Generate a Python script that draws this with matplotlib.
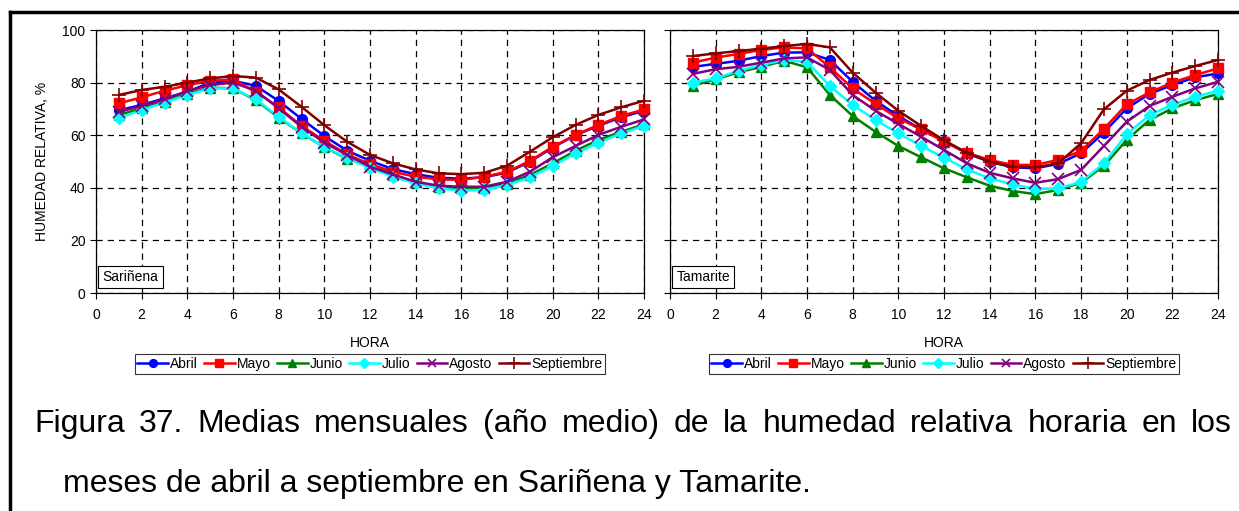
import matplotlib
matplotlib.use("Agg")
import matplotlib.pyplot as plt
from matplotlib.lines import Line2D
import numpy as np

plt.rcParams['font.family'] = ['Liberation Sans', 'DejaVu Sans']

hours = list(range(1, 25))
months = ["Abril", "Mayo", "Junio", "Julio", "Agosto", "Septiembre"]
colors = ["#0000FF", "#FF0000", "#008000", "#00FFFF", "#800080", "#800000"]
markers = ["o", "s", "^", "D", "x", "+"]
msizes = [7, 7, 7, 6, 8, 10]

sarinena = {
    "Abril":      [69.5, 71.5, 74.0, 76.5, 80.0, 80.7, 78.8, 73.0, 66.2, 59.7, 54.1, 50.3, 47.1, 45.2, 43.8, 43.5, 44.0, 45.8, 49.9, 55.3, 60.0, 63.6, 66.8, 69.3],
    "Mayo":       [72.1, 74.4, 76.9, 79.0, 80.7, 81.2, 76.5, 70.6, 63.5, 57.9, 52.7, 49.0, 46.1, 44.2, 43.2, 43.0, 44.2, 46.1, 50.2, 55.6, 60.1, 63.9, 67.3, 69.8],
    "Junio":      [67.7, 70.2, 72.8, 75.7, 78.1, 77.8, 73.3, 66.7, 60.7, 55.5, 51.0, 48.2, 45.0, 42.1, 40.4, 39.8, 39.8, 41.6, 44.9, 49.3, 54.1, 58.2, 61.3, 64.1],
    "Julio":      [66.4, 69.6, 72.4, 75.3, 77.8, 77.8, 73.6, 67.0, 60.7, 55.6, 51.2, 47.6, 44.2, 41.7, 39.8, 38.9, 39.2, 41.0, 44.0, 48.3, 53.1, 57.1, 60.7, 63.5],
    "Agosto":     [68.9, 71.1, 73.6, 76.8, 79.1, 80.0, 76.9, 70.2, 63.2, 57.2, 52.5, 48.0, 45.1, 42.3, 40.8, 40.4, 40.4, 42.3, 46.1, 51.6, 55.9, 60.1, 63.2, 66.0],
    "Septiembre": [75.3, 77.2, 78.4, 80.0, 81.6, 82.5, 81.9, 77.4, 70.8, 63.8, 57.5, 52.5, 49.3, 47.0, 45.5, 45.2, 45.7, 48.4, 53.7, 59.2, 63.9, 67.7, 70.6, 73.1],
}

tamarite = {
    "Abril":      [86.0, 87.1, 88.3, 90.1, 91.4, 91.5, 88.6, 80.3, 73.1, 67.3, 62.2, 57.9, 53.1, 49.9, 47.8, 47.4, 49.1, 53.1, 61.0, 70.2, 75.7, 79.1, 82.0, 83.5],
    "Mayo":       [87.6, 89.5, 90.9, 92.4, 93.4, 93.0, 85.8, 77.8, 71.9, 66.4, 62.2, 57.5, 53.3, 50.6, 48.7, 48.7, 50.6, 54.0, 62.4, 71.7, 76.3, 80.0, 82.9, 85.4],
    "Junio":      [78.8, 81.3, 83.9, 86.0, 88.3, 85.8, 75.3, 67.3, 61.3, 55.9, 51.6, 47.4, 44.0, 40.8, 38.8, 37.6, 39.2, 41.9, 48.3, 58.2, 65.8, 70.2, 73.3, 75.7],
    "Julio":      [80.0, 81.6, 84.5, 86.7, 88.6, 87.9, 78.7, 71.5, 65.8, 60.7, 55.9, 51.5, 47.0, 43.6, 41.3, 39.5, 39.8, 42.2, 49.3, 60.3, 67.7, 71.5, 74.6, 76.9],
    "Agosto":     [83.3, 85.1, 86.0, 87.6, 89.2, 89.6, 84.8, 75.3, 69.3, 64.3, 59.4, 54.4, 49.3, 45.7, 43.6, 41.9, 43.3, 46.8, 55.9, 65.1, 71.1, 74.6, 77.8, 80.3],
    "Septiembre": [90.1, 91.1, 92.0, 92.9, 93.9, 94.7, 93.4, 83.8, 76.2, 69.3, 63.5, 58.1, 53.3, 49.9, 48.0, 47.8, 49.3, 56.9, 69.8, 76.9, 81.0, 83.8, 86.3, 88.6],
}

stations = ["Sariñena", "Tamarite"]
xticks = list(range(0, 25, 2))
yticks = list(range(0, 101, 20))

W, H = 1239, 511
fig = plt.figure(figsize=(W / 100, H / 100), dpi=100)

def fx(px):
    return px / W

def fy(py):
    return 1 - py / H

ax_left = [96, 670]
ax_w = 548
ax_top, ax_bot = 30, 293
axes = []
for i, (st, data) in enumerate(zip(stations, [sarinena, tamarite])):
    ax = fig.add_axes([fx(ax_left[i]), fy(ax_bot), ax_w / W, (ax_bot - ax_top) / H])
    axes.append(ax)
    for m, c, mk, ms in zip(months, colors, markers, msizes):
        mew = 1.2 if mk in ("x", "+") else 1
        ax.plot(hours, data[m], color=c, marker=mk, markersize=ms, lw=1.8,
                markeredgewidth=mew, label=m, clip_on=False, zorder=3)
    ax.set_xlim(0, 24)
    ax.set_ylim(0, 100)
    ax.set_xticks(xticks)
    ax.set_yticks(yticks)
    ax.grid(True, color="black", linestyle=(0, (5, 4)), linewidth=0.9)
    ax.tick_params(axis="both", direction="out", length=4, width=0.8, labelsize=10, colors="black")
    ax.tick_params(axis="x", pad=7)
    if i == 0:
        ax.set_ylabel("HUMEDAD RELATIVA, %", fontsize=10, labelpad=10)
    else:
        ax.tick_params(axis="y", labelleft=False)
    for s in ax.spines.values():
        s.set_linewidth(0.9)
        s.set_color("black")
    ax.text(0.5, (ax_bot - 343) / (ax_bot - ax_top), "HORA", transform=ax.transAxes,
            ha="center", va="center", fontsize=10)
    ax.text(0.012, 0.035, st, transform=ax.transAxes, ha="left", va="bottom", fontsize=10,
            bbox=dict(boxstyle="square,pad=0.3", fc="white", ec="black", lw=0.8), zorder=5)
    leg = ax.legend(loc="center", bbox_to_anchor=(0.5, (ax_bot - 364) / (ax_bot - ax_top)),
                    ncol=6, fontsize=10, frameon=True, fancybox=False, edgecolor="black",
                    handlelength=2.2, handletextpad=0.15, columnspacing=0.45, borderpad=0.2,
                    markerscale=0.8, borderaxespad=0)
    leg.get_frame().set_linewidth(0.8)

# outer frame (left and top edges)
fig.add_artist(Line2D([fx(10), fx(10)], [fy(12), 0], color="black", lw=2.5, transform=fig.transFigure))
fig.add_artist(Line2D([fx(10), 1], [fy(12), fy(12)], color="black", lw=2.5, transform=fig.transFigure))

# caption, first line justified
line1 = "Figura 37. Medias mensuales (año medio) de la humedad relativa horaria en los"
line2 = "meses de abril a septiembre en Sariñena y Tamarite."
cap_fs = 23
words = line1.split(" ")
renderer = fig.canvas.get_renderer()
x_start, x_end = 34, 1232
tmp = [fig.text(0, 0, w, fontsize=cap_fs) for w in words]
widths = [t.get_window_extent(renderer).width for t in tmp]
for t in tmp:
    t.remove()
gap = (x_end - x_start - sum(widths)) / (len(words) - 1)
xcur = x_start
for w, wd in zip(words, widths):
    fig.text(fx(xcur), fy(432), w, fontsize=cap_fs, ha="left", va="baseline")
    xcur += wd + gap
fig.text(fx(63), fy(492), line2, fontsize=cap_fs, ha="left", va="baseline")

fig.savefig("out.png", dpi=100)
